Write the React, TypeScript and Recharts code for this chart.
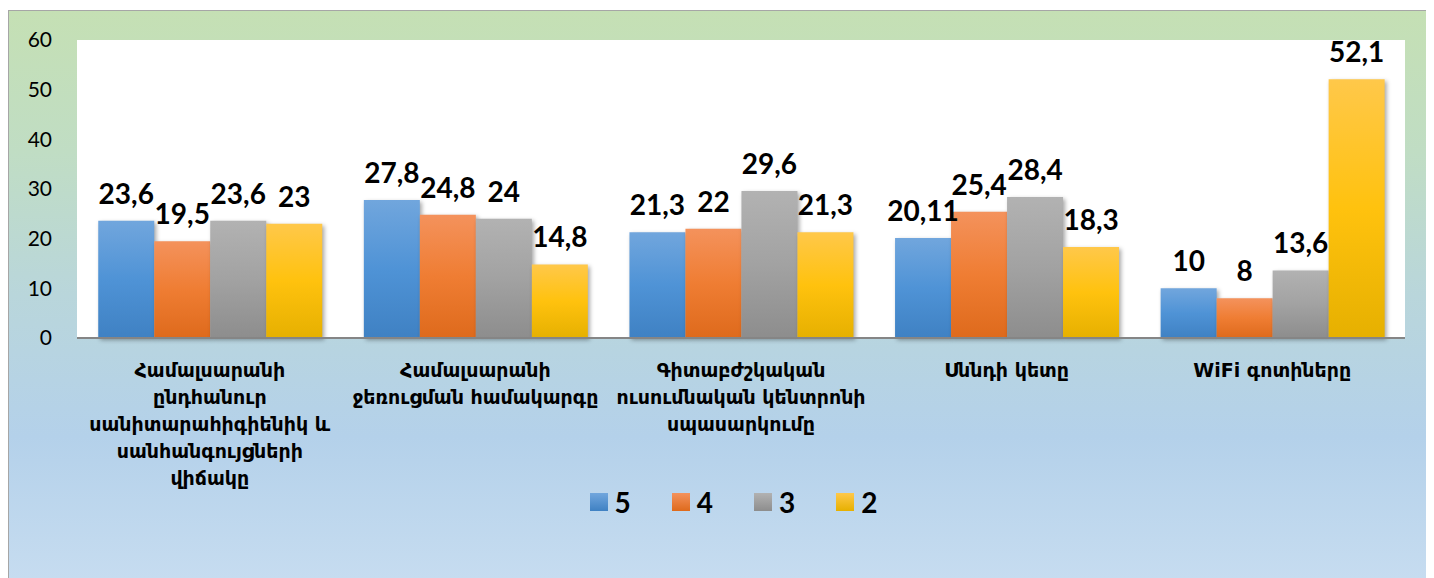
import { BarChart, Bar, XAxis, YAxis, CartesianGrid, Legend, LabelList } from 'recharts';

// categories (line breaks as in the reference)
const categories = [
  'Համալսարանի\nընդհանուր\nսանիտարահիգիենիկ և\nսանհանգույցների\nվիճակը',
  'Համալսարանի\nջեռուցման համակարգը',
  'Գիտաբժշկական\nուսումնական կենտրոնի\nսպասարկումը',
  'Սննդի կետը',
  'WiFi գոտիները',
];

const grade5 = [23.6, 27.8, 21.3, 20.11, 10];
const grade4 = [19.5, 24.8, 22, 25.4, 8];
const grade3 = [23.6, 24, 29.6, 28.4, 13.6];
const grade2 = [23, 14.8, 21.3, 18.3, 52.1];

const yTicks = [0, 10, 20, 30, 40, 50, 60];

const seriesKeys = ['5', '4', '3', '2'];

const data = categories.map((name, i) => ({
  name,
  '5': grade5[i],
  '4': grade4[i],
  '3': grade3[i],
  '2': grade2[i],
}));

const gradients: Record<string, [string, string, string]> = {
  '5': ['#71a6dd', '#4f93d6', '#3f81c3'],
  '4': ['#f4925c', '#ef7d33', '#de6a1c'],
  '3': ['#b2b2b2', '#a2a2a2', '#8d8d8d'],
  '2': ['#ffc84a', '#ffc20e', '#e6b000'],
};

const fmt = (v: any) => String(v).replace('.', ',');

const CategoryTick = ({ x, y, payload }: any) => {
  const lines = String(payload.value).split('\n');
  return (
    <text
      x={x}
      y={y}
      textAnchor="middle"
      fontFamily="'DejaVu Sans', sans-serif"
      fontWeight="bold"
      fontSize={19}
      fill="#000"
    >
      {lines.map((l, i) => (
        <tspan key={i} x={x} dy={i === 0 ? 37 : 27}>
          {l}
        </tspan>
      ))}
    </text>
  );
};

const LegendContent = () => (
  <div
    style={{
      display: 'flex',
      justifyContent: 'center',
      alignItems: 'center',
      height: 32,
      fontFamily: 'Lato, sans-serif',
      fontWeight: 'bold',
      fontSize: 28,
      color: '#000',
      paddingLeft: 66,
    }}
  >
    {seriesKeys.map((k) => (
      <div key={k} style={{ display: 'flex', alignItems: 'center', marginRight: 41 }}>
        <div
          style={{
            width: 18,
            height: 18,
            marginRight: 7,
            background: `linear-gradient(${gradients[k][0]}, ${gradients[k][2]})`,
          }}
        />
        <span>{k}</span>
      </div>
    ))}
  </div>
);

export default function App() {
  return (
    <div
      style={{
        marginTop: 2,
        width: 1424,
        height: 568,
        border: '1px solid #a6a6a6',
        background:
          'linear-gradient(180deg, #c5e0b4 0%, #c0ddc4 25%, #b9d6db 50%, #b4d1ea 75%, #c6dcf0 100%)',
      }}
    >
      <BarChart
        width={1424}
        height={507}
        data={data}
        margin={{ top: 29, right: 28, left: 18, bottom: 0 }}
        barCategoryGap="8%"
        barGap={0}
      >
        <defs>
          {seriesKeys.map((k) => (
            <linearGradient key={k} id={`grad${k}`} x1="0" y1="0" x2="0" y2="1">
              <stop offset="0%" stopColor={gradients[k][0]} />
              <stop offset="50%" stopColor={gradients[k][1]} />
              <stop offset="100%" stopColor={gradients[k][2]} />
            </linearGradient>
          ))}
        </defs>
        <CartesianGrid fill="#ffffff" stroke="none" horizontal={false} vertical={false} />
        <XAxis
          dataKey="name"
          interval={0}
          height={148}
          tickLine={false}
          tickSize={0}
          axisLine={{ stroke: '#858585', strokeWidth: 2 }}
          tick={<CategoryTick />}
        />
        <YAxis
          domain={[0, 60]}
          ticks={yTicks}
          width={50}
          axisLine={false}
          tickLine={false}
          tickSize={0}
          tickMargin={25}
          tick={{ fill: '#000', fontSize: 21, fontFamily: 'Lato, sans-serif' }}
        />
        <Legend
          verticalAlign="bottom"
          content={<LegendContent />}
          wrapperStyle={{ left: 0, width: 1424 }}
        />
        {seriesKeys.map((k) => (
          <Bar
            key={k}
            dataKey={k}
            fill={`url(#grad${k})`}
            fillOpacity={1}
            isAnimationActive={false}
            style={{ filter: 'drop-shadow(2px 2px 2px rgba(0,0,0,0.35))' }}
            legendType="square"
          >
            <LabelList
              dataKey={k}
              position="top"
              offset={17}
              formatter={fmt}
              fill="#000"
              fontFamily="Lato, sans-serif"
              fontWeight="bold"
              fontSize={28}
            />
          </Bar>
        ))}
      </BarChart>
    </div>
  );
}
